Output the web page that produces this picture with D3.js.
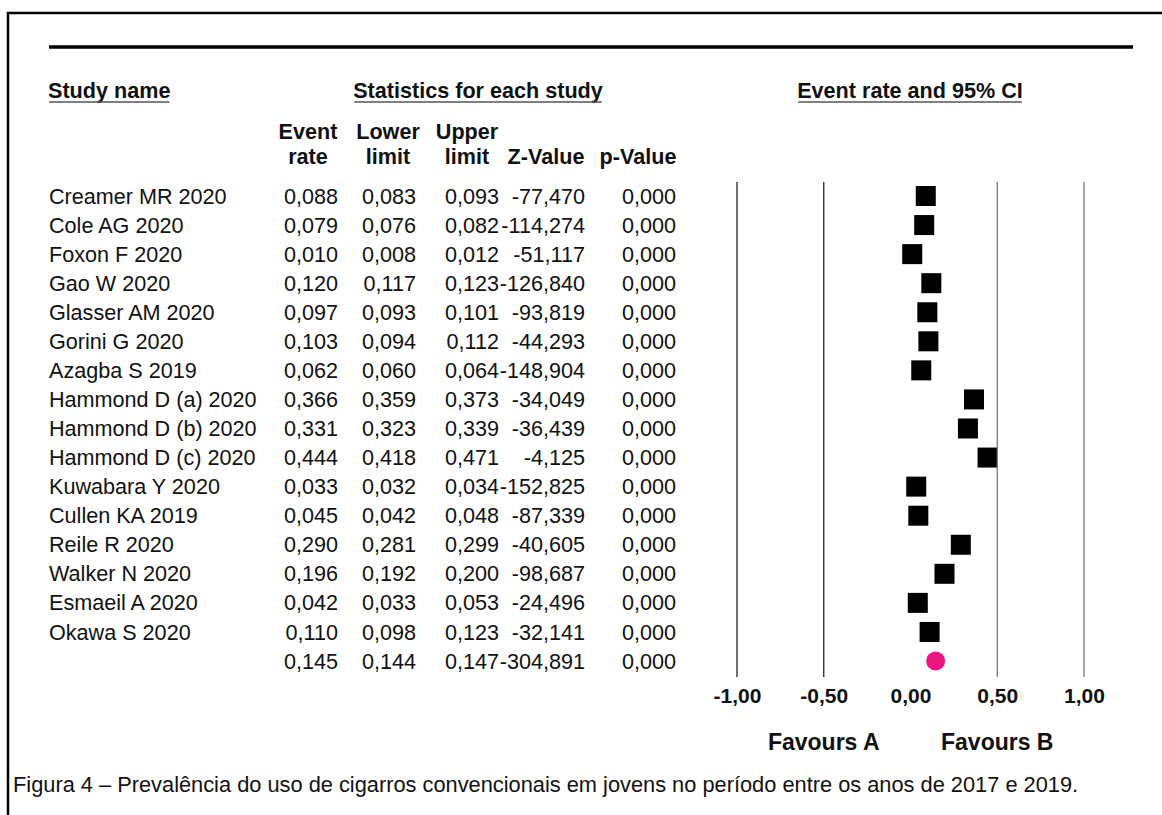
<!DOCTYPE html>
<html>
<head>
<meta charset="utf-8">
<script src="https://cdn.jsdelivr.net/npm/d3@7"></script>
<style>
  body { margin: 0; background: #fff; }
  text { font-family: "Liberation Sans", Arial, sans-serif; fill: #111; }
</style>
</head>
<body>
<div class="canva"></div>
<script>
// data
const studies = ["Creamer MR 2020", "Cole AG 2020", "Foxon F 2020", "Gao W 2020", "Glasser AM 2020",
    "Gorini G 2020", "Azagba S 2019", "Hammond D (a) 2020", "Hammond D (b) 2020", "Hammond D (c) 2020",
    "Kuwabara Y 2020", "Cullen KA 2019", "Reile R 2020", "Walker N 2020", "Esmaeil A 2020", "Okawa S 2020"];
const eventRate = [0.088, 0.079, 0.010, 0.120, 0.097, 0.103, 0.062, 0.366, 0.331, 0.444, 0.033, 0.045, 0.290, 0.196, 0.042, 0.110];
const lowerLimit = [0.083, 0.076, 0.008, 0.117, 0.093, 0.094, 0.060, 0.359, 0.323, 0.418, 0.032, 0.042, 0.281, 0.192, 0.033, 0.098];
const upperLimit = [0.093, 0.082, 0.012, 0.123, 0.101, 0.112, 0.064, 0.373, 0.339, 0.471, 0.034, 0.048, 0.299, 0.200, 0.053, 0.123];
const zValue = [-77.470, -114.274, -51.117, -126.840, -93.819, -44.293, -148.904, -34.049, -36.439, -4.125,
    -152.825, -87.339, -40.605, -98.687, -24.496, -32.141];
const pValue = [0, 0, 0, 0, 0, 0, 0, 0, 0, 0, 0, 0, 0, 0, 0, 0];
const summary = { rate: 0.145, lower: 0.144, upper: 0.147, z: -304.891, p: 0 };
const tickValues = [-1, -0.5, 0, 0.5, 1];
const colHeaders = [["Event", "rate"], ["Lower", "limit"], ["Upper", "limit"], ["", "Z-Value"], ["", "p-Value"]];

const fs = "21.6px";

const svg = d3.select(".canva").append("svg")
    .attr("width", 1162)
    .attr("height", 815);

// outer frame (runs off the right/bottom of the crop)
svg.append("rect")
    .attr("x", 8).attr("y", 13)
    .attr("width", 1200).attr("height", 900)
    .attr("fill", "none")
    .attr("stroke", "#000")
    .attr("stroke-width", 2.5);

svg.append("line")
    .attr("x1", 49).attr("x2", 1133)
    .attr("y1", 47).attr("y2", 47)
    .attr("stroke", "#000")
    .attr("stroke-width", 3.5);

const rows = studies.map((name, i) => ({
    name, rate: eventRate[i], lower: lowerLimit[i], upper: upperLimit[i], z: zValue[i], p: pValue[i]
}));
rows.push({ name: "", ...summary, summary: true });

const y = d3.scaleLinear()
    .domain([0, rows.length - 1])
    .range([196, 661]);

const x = d3.scaleLinear()
    .domain([-1, 1])
    .range([737, 1084]);

const loc = d3.formatLocale({ decimal: ",", thousands: ".", grouping: [3], currency: ["", ""], minus: "-" });
const f3 = loc.format(".3f");
const f2 = loc.format(".2f");

// section headers with underline
function header(label, xPos, anchor) {
    const t = svg.append("text")
        .attr("x", xPos).attr("y", 90)
        .attr("dy", "0.35em")
        .attr("text-anchor", anchor)
        .style("font-size", fs)
        .style("font-weight", "bold")
        .text(label);
    const w = t.node().getComputedTextLength();
    const x0 = anchor === "middle" ? xPos - w / 2 : xPos;
    svg.append("line")
        .attr("x1", x0 + 1).attr("x2", x0 + w - 1)
        .attr("y1", 102).attr("y2", 102)
        .attr("stroke", "#555")
        .attr("stroke-width", 1.5);
}
header("Study name", 48, "start");
header("Statistics for each study", 478, "middle");
header("Event rate and 95% CI", 910, "middle");

const colRight = [338, 416, 499, 585, 676];
const headCenter = [308, 388, 467, 546, 638];

colHeaders.forEach((h, i) => {
    h.forEach((line, j) => {
        svg.append("text")
            .attr("x", headCenter[i])
            .attr("y", 131 + j * 25)
            .attr("dy", "0.35em")
            .attr("text-anchor", "middle")
            .style("font-size", fs)
            .style("font-weight", "bold")
            .text(line);
    });
});

const rowG = svg.selectAll(".row")
    .data(rows)
    .enter()
    .append("g")
    .attr("class", "row")
    .attr("transform", (d, i) => `translate(0, ${y(i)})`);

rowG.append("text")
    .attr("x", 49)
    .attr("dy", "0.35em")
    .style("font-size", fs)
    .text(d => d.name);

const cols = [d => f3(d.rate), d => f3(d.lower), d => f3(d.upper), d => f3(d.z), d => f3(d.p)];
cols.forEach((fn, i) => {
    rowG.append("text")
        .attr("x", colRight[i])
        .attr("dy", "0.35em")
        .attr("text-anchor", "end")
        .style("font-size", fs)
        .text(fn);
});

// reference lines (no line at zero)
svg.selectAll(".grid")
    .data(tickValues.filter(v => v !== 0))
    .enter()
    .append("line")
    .attr("x1", d => x(d)).attr("x2", d => x(d))
    .attr("y1", 182).attr("y2", 677)
    .attr("stroke", d => d < 0 ? "#222" : "#777")
    .attr("stroke-width", 1.3);

// confidence intervals and point estimates
rowG.append("line")
    .attr("x1", d => x(d.lower)).attr("x2", d => x(d.upper))
    .attr("stroke", "#000")
    .attr("stroke-width", 1.5);

rowG.filter(d => !d.summary).append("rect")
    .attr("x", d => x(d.rate) - 10)
    .attr("y", -10)
    .attr("width", 20)
    .attr("height", 20)
    .attr("fill", "#000");

rowG.filter(d => d.summary).append("circle")
    .attr("cx", d => x(d.rate))
    .attr("r", 9.5)
    .attr("fill", "#ec1683");

const axis = d3.axisBottom(x)
    .tickValues(tickValues)
    .tickSize(0)
    .tickFormat(f2);

const axisG = svg.append("g")
    .attr("transform", "translate(0, 684)")
    .call(axis);
axisG.select(".domain").remove();
axisG.selectAll("text")
    .attr("y", 4)
    .attr("dy", "0.71em")
    .style("font-size", "21px")
    .style("font-weight", "bold")
    .style("font-family", "'Liberation Sans', Arial, sans-serif")
    .attr("fill", "#111");

svg.append("text")
    .attr("x", x(-0.5)).attr("y", 742)
    .attr("dy", "0.35em")
    .attr("text-anchor", "middle")
    .style("font-size", "23px")
    .style("font-weight", "bold")
    .text("Favours A");

svg.append("text")
    .attr("x", x(0.5)).attr("y", 742)
    .attr("dy", "0.35em")
    .attr("text-anchor", "middle")
    .style("font-size", "23px")
    .style("font-weight", "bold")
    .text("Favours B");

svg.append("text")
    .attr("x", 13).attr("y", 784)
    .attr("dy", "0.35em")
    .style("font-size", "21.8px")
    .text("Figura 4 – Prevalência do uso de cigarros convencionais em jovens no período entre os anos de 2017 e 2019.");
</script>
</body>
</html>
